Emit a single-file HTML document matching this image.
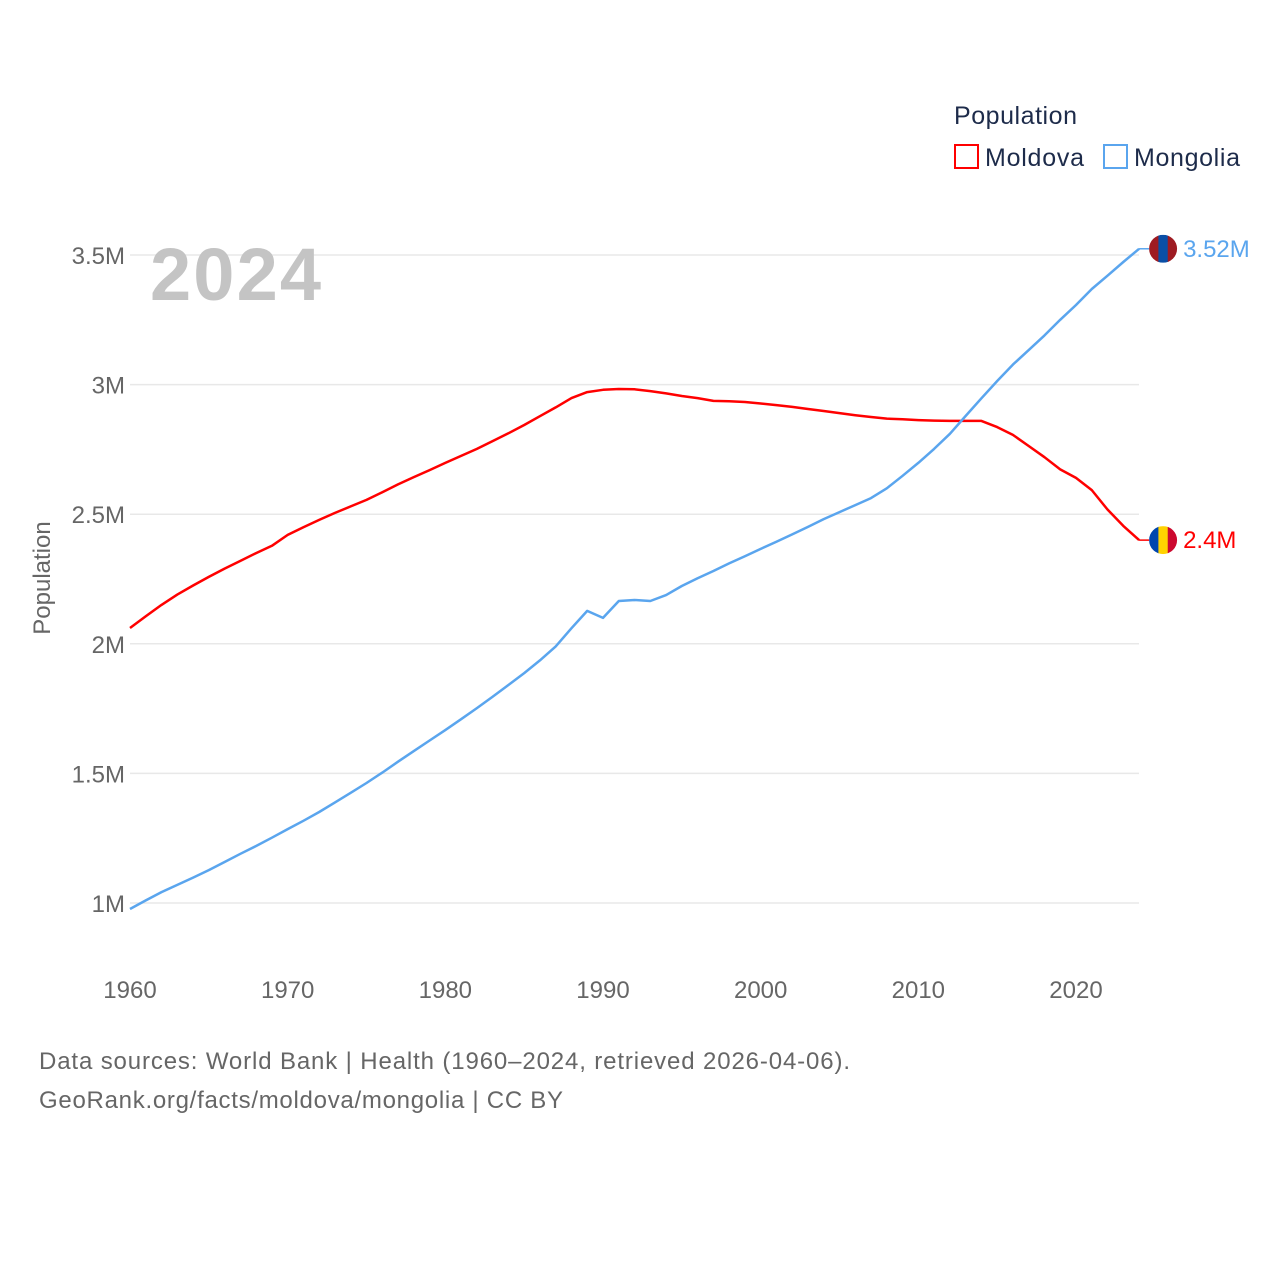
<!DOCTYPE html>
<html><head><meta charset="utf-8">
<style>
body{margin:0;background:#fff;font-family:"Liberation Sans",sans-serif;}
svg text{font-family:"Liberation Sans",sans-serif;}
</style></head>
<body>
<svg id="chart" width="1280" height="1280" xmlns="http://www.w3.org/2000/svg">
<g id="grid"></g>
<g id="yticks"></g>
<g id="xticks"></g>
<text x="150" y="300" font-size="74" font-weight="bold" fill="#c4c4c4" textLength="171">2024</text>
<text transform="translate(50,578) rotate(-90)" text-anchor="middle" font-size="24" fill="#666">Population</text>
<g>
<text x="954" y="124" font-size="25" fill="#1d2b4a" textLength="123">Population</text>
<rect x="955" y="145" width="23" height="23" fill="none" stroke="#ff0000" stroke-width="2"/>
<text x="985" y="166" font-size="25" fill="#1d2b4a" textLength="99">Moldova</text>
<rect x="1104" y="145" width="23" height="23" fill="none" stroke="#5aa5ee" stroke-width="2"/>
<text x="1134" y="166" font-size="25" fill="#1d2b4a" textLength="106">Mongolia</text>
</g>
<g id="series"></g>
<text x="39" y="1069" font-size="24" fill="#666" textLength="811">Data sources: World Bank | Health (1960–2024, retrieved 2026-04-06).</text>
<text x="39" y="1108" font-size="24" fill="#666" textLength="524">GeoRank.org/facts/moldova/mongolia | CC BY</text>
</svg>
<script>
const years=[];for(let y=1960;y<=2024;y++)years.push(y);
const moldova=[2.061,2.106,2.150,2.19,2.225,2.258,2.29,2.32,2.35,2.378,2.42,2.45,2.478,2.505,2.53,2.555,2.585,2.615,2.643,2.67,2.698,2.725,2.752,2.782,2.812,2.844,2.878,2.912,2.948,2.971,2.980,2.983,2.982,2.975,2.966,2.956,2.948,2.937,2.936,2.933,2.927,2.921,2.914,2.906,2.898,2.890,2.882,2.875,2.869,2.866,2.863,2.861,2.860,2.860,2.860,2.836,2.806,2.763,2.72,2.673,2.64,2.593,2.518,2.455,2.40];
const mongolia=[0.977,1.01,1.042,1.07,1.098,1.127,1.158,1.19,1.22,1.252,1.285,1.317,1.351,1.388,1.425,1.463,1.503,1.545,1.586,1.627,1.667,1.709,1.752,1.796,1.841,1.887,1.936,1.99,2.06,2.127,2.10,2.165,2.169,2.165,2.188,2.223,2.253,2.281,2.31,2.338,2.366,2.394,2.422,2.451,2.481,2.508,2.535,2.562,2.60,2.648,2.698,2.752,2.81,2.879,2.947,3.014,3.077,3.133,3.19,3.25,3.307,3.369,3.42,3.473,3.524];
const yTicks=[1,1.5,2,2.5,3,3.5];
const yTickLabels=["1M","1.5M","2M","2.5M","3M","3.5M"];
const xTicks=[1960,1970,1980,1990,2000,2010,2020];
const NS="http://www.w3.org/2000/svg";
const X=y=>130+(y-1960)*946/60;
const Y=v=>903-(v-1)*259.2;
function mk(t,a,p){const e=document.createElementNS(NS,t);for(const k in a)e.setAttribute(k,a[k]);p.appendChild(e);return e;}
const grid=document.getElementById('grid'),yt=document.getElementById('yticks'),xt=document.getElementById('xticks'),ser=document.getElementById('series');
yTicks.forEach((v,i)=>{
 const l=mk('line',{x1:130,x2:1139,y1:Y(v),y2:Y(v),stroke:'#e8e8e8','stroke-width':1.5},grid);
 
 
 const t=mk('text',{x:125,y:Y(v)+9,'text-anchor':'end','font-size':24,fill:'#666'},yt);
 t.textContent=yTickLabels[i];
 
 
});
xTicks.forEach(v=>{
 const t=mk('text',{x:X(v),y:998,'text-anchor':'middle','font-size':24,fill:'#666'},xt);
 t.textContent=v;
 
 
});
function line(vals,color,name){
 const d=vals.map((v,i)=>(i?'L':'M')+X(years[i]).toFixed(1)+','+Y(v).toFixed(1)).join('');
 const p=mk('path',{d:d,fill:'none',stroke:color,'stroke-width':2.5,'stroke-linejoin':'round'},ser);
 
 
}
line(moldova,'#ff0000','moldova');
line(mongolia,'#5aa5ee','mongolia');
function endLabel(vals,color,name,flag){
 const v=vals[vals.length-1],x=X(2024),y=Y(v);
 const l=mk('line',{x1:x,x2:x+10,y1:y,y2:y,stroke:color,'stroke-width':1.5},ser);
 
 
 const g=mk('g',{},ser);
 
 
 const cx=x+24;
 mk('clipPath',{id:'c'+name},g).appendChild(document.createElementNS(NS,'circle'));
 const c=g.querySelector('circle');c.setAttribute('cx',cx);c.setAttribute('cy',y);c.setAttribute('r',14);
 flag.forEach((col,i)=>mk('rect',{x:cx-14+i*28/3,y:y-14,width:28/3+0.5,height:28,fill:col,'clip-path':'url(#c'+name+')'},g));
 const t=mk('text',{x:x+44,y:y+8,'font-size':24,fill:color},ser);
 t.textContent=(Math.round(v*100)/100)+'M';
 
 
}
endLabel(moldova,'#ff0000','moldova',['#0046ae','#ffd200','#cc092f']);
endLabel(mongolia,'#5aa5ee','mongolia',['#9e1b22','#0a4fa6','#9e1b22']);
</script>
</body></html>
